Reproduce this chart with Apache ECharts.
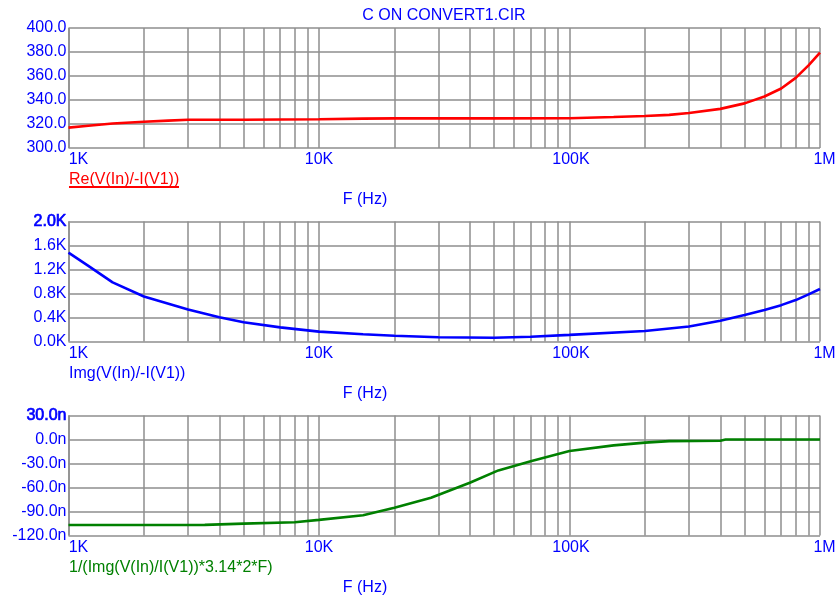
<!DOCTYPE html>
<html>
<head>
<meta charset="utf-8">
<script src="https://cdn.jsdelivr.net/npm/echarts@6/dist/echarts.min.js"></script>
<style>
html,body{margin:0;padding:0;background:#fff;}
#c{width:835px;height:598px;}
</style>
</head>
<body>
<div id="c"></div>
<script>
// ---- Data ----
var titleText = 'C ON CONVERT1.CIR';
var xTickLabels = {1000: '1K', 10000: '10K', 100000: '100K', 1000000: '1M'};

var reFreq = [1000, 1200, 1500, 2000, 2500, 3000, 5000, 10000, 15000, 20000, 50000, 100000, 150000, 200000, 250000, 300000, 400000, 500000, 600000, 700000, 800000, 900000, 1000000];
var reVal  = [317.0, 318.6, 320.4, 321.9, 322.8, 323.5, 323.6, 324.0, 324.5, 324.7, 324.7, 324.8, 325.8, 326.7, 327.6, 329.1, 332.6, 337.2, 342.9, 349.6, 358.4, 368.8, 379.5];

var imFreq = [1000, 1200, 1500, 2000, 3000, 4000, 5000, 7000, 10000, 15000, 20000, 30000, 50000, 70000, 100000, 200000, 300000, 400000, 500000, 600000, 700000, 800000, 900000, 1000000];
var imVal  = [1480, 1260, 985, 750, 535, 405, 322, 235, 165, 120, 97, 72, 62, 80, 110, 176, 250, 346, 440, 525, 606, 690, 785, 875];

var cFreq = [1000, 2000, 3500, 5000, 8000, 10000, 15000, 20000, 28000, 40000, 52000, 70000, 100000, 150000, 200000, 250000, 400000, 420000, 1000000];
var cVal  = [-106.9, -106.9, -106.7, -105.2, -103.5, -100.5, -94.6, -85.2, -72.8, -54.1, -38.6, -27.3, -14.4, -7.3, -3.9, -2.0, -1.6, 0.0, 0.0];

var traceNames = ['Re(V(In)/-I(V1))', 'Img(V(In)/-I(V1))', '1/(Img(V(In)/I(V1))*3.14*2*F)'];
var xAxisTitle = 'F (Hz)';
var minorMultipliers = [2, 3, 4, 5, 6, 7, 8, 9];
var decades = [1000, 10000, 100000];

// ---- Styling / layout ----
var FONT = '"Liberation Sans", Arial, sans-serif';
var BLUE = '#0000ff';
var GRIDC = '#8e8e8e';
var GL = 68.5, GR = 820, GW = GR - GL;
var tops = [28, 221.5, 415.5];
var H = 120;

function zip(a, b) { return a.map(function (v, i) { return [v, b[i]]; }); }

var minorTicks = [];
decades.forEach(function (d) { minorMultipliers.forEach(function (m) { minorTicks.push(d * m); }); });

var yDefs = [
  {min: 300, max: 400, interval: 20, fmt: function (v) { return v.toFixed(1); }, boldTop: false},
  {min: 0, max: 2000, interval: 400, fmt: function (v) { return (v / 1000).toFixed(1) + 'K'; }, boldTop: true},
  {min: -120, max: 30, interval: 30, fmt: function (v) { return v.toFixed(1) + 'n'; }, boldTop: true}
];
var colors = ['#ff0000', '#0000ff', '#008000'];
var datasets = [zip(reFreq, reVal), zip(imFreq, imVal), zip(cFreq, cVal)];

var xLabelRich = {
  first: {color: BLUE, fontFamily: FONT, fontSize: 16, padding: [0, 0, 0, 20]},
  last: {color: BLUE, fontFamily: FONT, fontSize: 16, padding: [0, 0, 0, 9]},
  mid: {color: BLUE, fontFamily: FONT, fontSize: 16, padding: [0, 0, 0, 3]}
};

var grids = [], xAxes = [], yAxes = [], series = [], graphics = [];
for (var i = 0; i < 3; i++) {
  grids.push({left: GL, top: tops[i], width: GW, height: H, containLabel: false, outerBoundsMode: 'none'});
  xAxes.push({
    type: 'log', logBase: 10, min: 1000, max: 1000000, gridIndex: i,
    axisLine: {show: false}, axisTick: {show: false},
    splitLine: {show: true, lineStyle: {color: GRIDC, width: 1.5}},
    axisLabel: {
      margin: 4, color: BLUE, fontFamily: FONT, fontSize: 16,
      formatter: function (v) {
        var r = Math.round(v);
        var s = xTickLabels[r] || '';
        if (r === 1000) return '{first|' + s + '}';
        if (r === 1000000) return '{last|' + s + '}';
        if (r === 100000) return '{mid|' + s + '}';
        return s;
      },
      rich: xLabelRich
    }
  });
  (function (d) {
    yAxes.push({
      type: 'value', min: d.min, max: d.max, interval: d.interval, gridIndex: i,
      axisLine: {show: false}, axisTick: {show: false},
      splitLine: {show: true, lineStyle: {color: GRIDC, width: 1.5}},
      axisLabel: {
        margin: 2, color: BLUE, fontFamily: FONT, fontSize: 16,
        formatter: function (v) {
          var s = d.fmt(v);
          return (d.boldTop && v === d.max) ? '{b|' + s + '}' : s;
        },
        rich: {b: {color: BLUE, fontFamily: FONT, fontSize: 16, textBorderColor: BLUE, textBorderWidth: 0.7}}
      }
    });
  })(yDefs[i]);
  // minor vertical grid lines via markLine on an invisible helper series
  series.push({
    type: 'line', xAxisIndex: i, yAxisIndex: i, data: datasets[i], z: 1,
    showSymbol: false, symbol: 'none', silent: true, lineStyle: {opacity: 0},
    animation: false, tooltip: {show: false},
    markLine: {
      silent: true, symbol: 'none', animation: false, z: 1,
      label: {show: false},
      lineStyle: {color: GRIDC, width: 1.5, type: 'solid'},
      emphasis: {disabled: true},
      data: minorTicks.map(function (t) { return {xAxis: t}; })
    }
  });
  series.push({
    type: 'line', xAxisIndex: i, yAxisIndex: i, data: datasets[i], z: 5,
    showSymbol: false, symbol: 'none', smooth: false, animation: false,
    lineStyle: {color: colors[i], width: 2.6}
  });
  graphics.push({
    type: 'text', left: 69, top: tops[i] + H + 24,
    style: {text: traceNames[i], fill: colors[i], font: '16px ' + FONT}
  });
  graphics.push({
    type: 'text', x: 365, y: tops[i] + H + 52,
    style: {text: xAxisTitle, fill: BLUE, font: '16px ' + FONT, align: 'center', verticalAlign: 'middle'}
  });
}
graphics.push({
  type: 'rect', shape: {x: 69, y: tops[0] + H + 38, width: 110, height: 2},
  style: {fill: '#ff0000'}
});
graphics.push({
  type: 'text', x: 444, y: 16,
  style: {text: titleText, fill: BLUE, font: '16px ' + FONT, align: 'center', verticalAlign: 'middle'}
});

var chart = echarts.init(document.getElementById('c'), null, {renderer: 'canvas'});
chart.setOption({
  animation: false,
  backgroundColor: '#ffffff',
  grid: grids, xAxis: xAxes, yAxis: yAxes, series: series, graphic: graphics
});
</script>
</body>
</html>
